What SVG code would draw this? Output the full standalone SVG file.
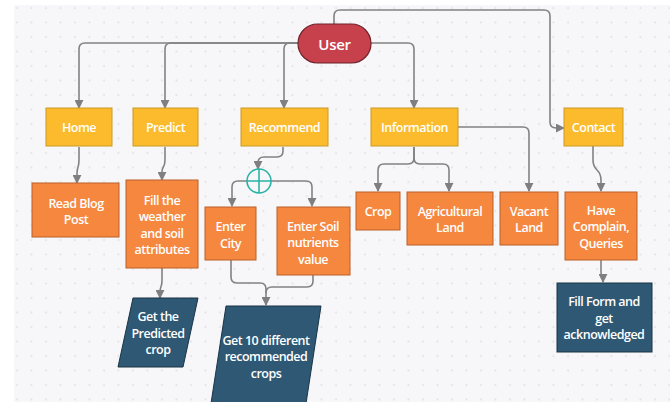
<svg xmlns="http://www.w3.org/2000/svg" width="670" height="402" viewBox="0 0 670 402">
<defs>
<pattern id="dots" x="10" y="1" width="14.5" height="14.5" patternUnits="userSpaceOnUse">
<circle cx="7" cy="7" r="0.9" fill="#dcdce2"/>
</pattern>
<marker id="arr" viewBox="0 0 10 10" refX="9" refY="5" markerWidth="9" markerHeight="9" markerUnits="userSpaceOnUse" orient="auto">
<path d="M0,0 L10,5 L0,10 Z" fill="#7f7f7f"/>
</marker>
<style>
.c{fill:none;stroke:#828282;stroke-width:1.6;stroke-linejoin:round}
.a{marker-end:url(#arr)}
.y{fill:#fbbb2c;stroke:#c99a25;stroke-width:1}
.o{fill:#f5873e;stroke:#b9602a;stroke-width:1}
.b{fill:#2e5873;stroke:#1b3547;stroke-width:1}
.u{fill:#c7414d;stroke:#6e2129;stroke-width:1.2}
text{font-family:"Open Sans","Noto Sans","Liberation Sans",sans-serif;font-weight:600;font-size:12.5px;fill:#ffffff;text-anchor:middle;dominant-baseline:central;letter-spacing:-0.5px}
.big{font-size:15px;letter-spacing:-0.3px}
</style>
</defs>
<rect x="0" y="0" width="670" height="402" fill="#ffffff"/>
<rect x="14" y="5" width="656" height="397" fill="#f7f7f9"/>
<rect x="14" y="5" width="656" height="397" fill="url(#dots)"/>

<g id="connectors">
<path class="c a" d="M298,43 H85 Q79,43 79,49 V108"/>
<path class="c a" d="M298,43 H171 Q165,43 165,49 V108"/>
<path class="c a" d="M298,43 H290 Q284,43 284,49 V108"/>
<path class="c a" d="M371,43 H408 Q414,43 414,49 V108"/>
<path class="c a" d="M334,24 V16 Q334,10 340,10 H544 Q550,10 550,16 V122 Q550,128 556,128 H564"/>
<path class="c a" d="M458,127 H523 Q529,127 529,133 V191"/>
<path class="c a" d="M414,147 V158 Q414,164 408,164 H384 Q378,164 378,170 V191"/>
<path class="c a" d="M414,147 V158 Q414,164 420,164 H443 Q449,164 449,170 V191"/>
<path class="c a" d="M79,147 V160 C79,168 77,166 77,174 V183"/>
<path class="c a" d="M165,147 V160 C165,168 162,166 162,172 V180"/>
<path class="c a" d="M283,147 V151 Q283,157 277,157 H264 Q258,157 258,163 V169"/>
<path class="c a" d="M247,181 H238 Q232,181 232,187 V206"/>
<path class="c a" d="M271,181 H306 Q312,181 312,187 V206"/>
<path class="c a" d="M162,268 V280 C162,288 160,286 160,292 V298"/>
<path class="c a" d="M231,260 V277 Q231,283 237,283 H260 Q266,283 266,289 V305"/>
<path class="c" d="M313,275 V281 Q313,287 307,287 H272 Q266,287 266,293"/>
<path class="c a" d="M593,146 V160 C593,172 601,168 601,180 V191"/>
<path class="c a" d="M601,260 V272 C601,276 603,276 603,282"/>
</g>

<g id="user">
<rect class="u" x="298" y="24" width="73" height="39" rx="19.5"/>
<text class="big" x="334.5" y="43.5">User</text>
</g>

<g id="home"><rect class="y" x="46" y="108" width="66" height="38"/><text x="79" y="127.5">Home</text></g>
<g id="predict"><rect class="y" x="133" y="108" width="65" height="38"/><text x="165.5" y="127.5">Predict</text></g>
<g id="recommend"><rect class="y" x="241" y="108" width="87" height="38"/><text x="284.5" y="127.5">Recommend</text></g>
<g id="information"><rect class="y" x="371" y="108" width="87" height="38"/><text x="414.5" y="127.5">Information</text></g>
<g id="contact"><rect class="y" x="564" y="108" width="59" height="38"/><text x="593.5" y="127.5">Contact</text></g>

<g id="read-blog"><rect class="o" x="32" y="183" width="87" height="54"/><text x="76" y="203">Read Blog</text><text x="76" y="219.5">Post</text></g>
<g id="fill-weather"><rect class="o" x="126" y="180" width="72" height="88"/>
<text x="162" y="200">Fill the</text><text x="162" y="216.5">weather</text><text x="162" y="233">and soil</text><text x="162" y="249.5">attributes</text></g>

<g id="junction">
<circle cx="259" cy="181" r="12" fill="#f7f7f9" stroke="#2ab3a6" stroke-width="1.6"/>
<path d="M247,181 H271 M259,169 V193" stroke="#2ab3a6" stroke-width="1.6" fill="none"/>
</g>

<g id="enter-city"><rect class="o" x="205" y="207" width="51" height="53"/><text x="230.5" y="226">Enter</text><text x="230.5" y="243">City</text></g>
<g id="enter-soil"><rect class="o" x="277" y="207" width="73" height="68"/><text x="313" y="226">Enter Soil</text><text x="313" y="242.5">nutrients</text><text x="313" y="259">value</text></g>

<g id="crop"><rect class="o" x="356" y="192" width="44" height="38"/><text x="378" y="211">Crop</text></g>
<g id="agricultural-land"><rect class="o" x="407" y="192" width="86" height="53"/><text x="450" y="211">Agricultural</text><text x="450" y="227.5">Land</text></g>
<g id="vacant-land"><rect class="o" x="500" y="192" width="58" height="53"/><text x="529" y="211">Vacant</text><text x="529" y="227.5">Land</text></g>
<g id="have-complain"><rect class="o" x="565" y="192" width="72" height="68"/><text x="601" y="210">Have</text><text x="601" y="226.5">Complain,</text><text x="601" y="243">Queries</text></g>

<g id="get-predicted"><polygon class="b" points="133,298 198,298 183,367 118,367"/><text x="158" y="316.5">Get the</text><text x="158" y="333">Predicted</text><text x="158" y="349.5">crop</text></g>
<g id="get-10"><polygon class="b" points="226,306 321,306 305,410 210,410"/><text x="266" y="340">Get 10 different</text><text x="266" y="356.5">recommended</text><text x="266" y="373">crops</text></g>
<g id="fill-form"><rect class="b" x="557" y="283" width="95" height="69"/><text x="604" y="301.5">Fill Form and</text><text x="604" y="318">get</text><text x="604" y="334.5">acknowledged</text></g>
</svg>
